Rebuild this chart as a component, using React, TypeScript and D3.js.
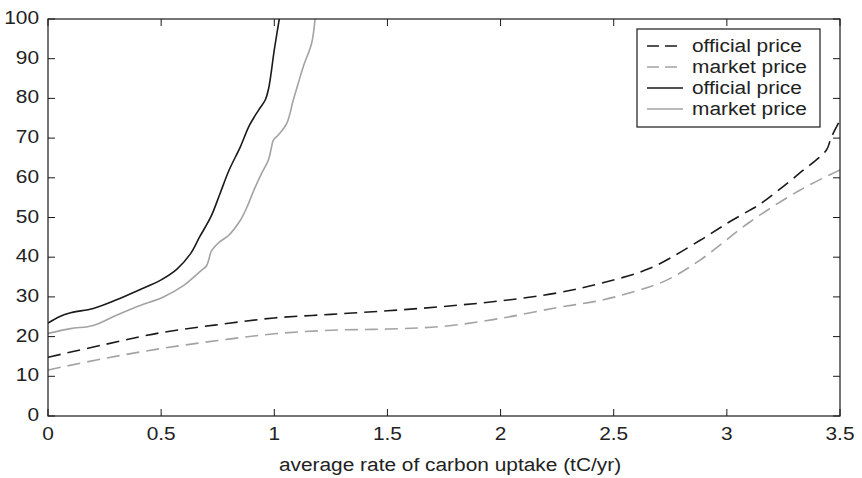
import React from 'react';
import * as d3 from 'd3';

// curve data (x = tC/yr, y = price)
const officialSolidX = [0, 0.05, 0.1, 0.2, 0.3, 0.4, 0.5, 0.57, 0.63, 0.67, 0.72, 0.76, 0.8, 0.85, 0.89, 0.93, 0.96, 0.975, 1.0, 1.022];
const officialSolidY = [23.4, 25, 26, 27.1, 29.2, 31.7, 34.3, 37, 40.9, 45.1, 50.2, 56, 61.9, 67.8, 73.2, 77, 79.6, 82.5, 92.2, 100];

const marketSolidX = [0, 0.1, 0.2, 0.3, 0.4, 0.51, 0.6, 0.67, 0.7, 0.71, 0.72, 0.73, 0.76, 0.8, 0.85, 0.88, 0.91, 0.944, 0.974, 0.988, 0.996, 1.018, 1.055, 1.084, 1.106, 1.128, 1.165, 1.18];
const marketSolidY = [20.8, 22, 22.8, 25.3, 27.7, 30, 32.9, 36.3, 37.8, 39.3, 41.3, 42.2, 43.9, 45.6, 49.3, 52.7, 56.9, 61.1, 64.5, 67.8, 69.5, 70.8, 73.7, 79.6, 83.8, 88, 93.9, 100];

const officialDashX = [0, 0.25, 0.5, 0.75, 1.0, 1.25, 1.5, 1.75, 2.0, 2.25, 2.44, 2.66, 2.88, 3.0, 3.1, 3.15, 3.32, 3.44, 3.46, 3.5];
const officialDashY = [14.8, 18, 21, 23, 24.7, 25.6, 26.5, 27.6, 29, 31, 33.4, 37.2, 44.2, 48.5, 51.8, 53.5, 61.1, 67, 70, 74.5];

const marketDashX = [0, 0.25, 0.5, 0.75, 1.0, 1.25, 1.5, 1.75, 2.0, 2.25, 2.44, 2.6, 2.73, 2.88, 3.1, 3.32, 3.5];
const marketDashY = [11.6, 14.5, 17, 19, 20.7, 21.6, 21.9, 22.6, 24.6, 27.3, 29.1, 31.5, 34.1, 39.2, 48.8, 56.8, 62];

const xTicks = [0, 0.5, 1, 1.5, 2, 2.5, 3, 3.5];
const yTicks = [0, 10, 20, 30, 40, 50, 60, 70, 80, 90, 100];

const legendLabels = ['official price', 'market price', 'official price', 'market price'];

const W = 862;
const H = 478;
const margin = { top: 19, right: 22, bottom: 62, left: 48 };
const FONT = '"Liberation Sans", Arial, Helvetica, sans-serif';
const STRETCH = 1.16;
const BLACK = '#1a1a1a';
const GREY = '#a3a3a3';

const zip = (xs: number[], ys: number[]) => xs.map((x, i) => [x, ys[i]] as [number, number]);

export default function App() {
  const x = d3.scaleLinear().domain([0, 3.5]).range([margin.left, W - margin.right]);
  const y = d3.scaleLinear().domain([0, 100]).range([H - margin.bottom, margin.top]);

  const line = d3.line<[number, number]>()
    .x(d => x(d[0]))
    .y(d => y(d[1]))
    .curve(d3.curveCatmullRom.alpha(0.5));

  const series = [
    { pts: zip(officialDashX, officialDashY), color: BLACK, dash: '13,7' },
    { pts: zip(marketDashX, marketDashY), color: GREY, dash: '13,7' },
    { pts: zip(officialSolidX, officialSolidY), color: BLACK, dash: undefined },
    { pts: zip(marketSolidX, marketSolidY), color: GREY, dash: undefined },
  ];

  const [x0, x1] = x.range();
  const [yb, yt] = y.range();
  const tick = 7;

  const label = (tx: number, ty: number, text: string, anchor: string) => (
    <text
      transform={`translate(${tx},${ty}) scale(${STRETCH},1)`}
      textAnchor={anchor}
      fontFamily={FONT}
      fontSize={18}
      fill="#222"
    >
      {text}
    </text>
  );

  // legend box
  const lg = { x: 637, y: 29, w: 183, h: 98 };

  return (
    <div style={{ position: 'absolute', left: 0, top: 0 }}>
      <svg width={W} height={H} style={{ display: 'block', background: '#fff' }}>
        <defs>
          <clipPath id="plot">
            <rect x={x0} y={yt} width={x1 - x0} height={yb - yt} />
          </clipPath>
        </defs>

        <g clipPath="url(#plot)">
          {series.map((s, i) => (
            <path
              key={i}
              d={line(s.pts) || ''}
              fill="none"
              stroke={s.color}
              strokeWidth={1.6}
              strokeDasharray={s.dash}
            />
          ))}
        </g>

        {/* frame */}
        <rect x={x0} y={yt} width={x1 - x0} height={yb - yt} fill="none" stroke={BLACK} strokeWidth={1.2} />

        {xTicks.map(t => (
          <g key={'x' + t}>
            <line x1={x(t)} x2={x(t)} y1={yb} y2={yb - tick} stroke={BLACK} strokeWidth={1} />
            <line x1={x(t)} x2={x(t)} y1={yt} y2={yt + tick} stroke={BLACK} strokeWidth={1} />
            {label(x(t), yb + 24, String(t), 'middle')}
          </g>
        ))}

        {yTicks.map(t => (
          <g key={'y' + t}>
            <line x1={x0} x2={x0 + tick} y1={y(t)} y2={y(t)} stroke={BLACK} strokeWidth={1} />
            <line x1={x1} x2={x1 - tick} y1={y(t)} y2={y(t)} stroke={BLACK} strokeWidth={1} />
            {label(x0 - 9, y(t) + 5, String(t), 'end')}
          </g>
        ))}

        {label((x0 + x1) / 2 + 6, 471, 'average rate of carbon uptake (tC/yr)', 'middle')}

        {/* legend */}
        <rect x={lg.x} y={lg.y} width={lg.w} height={lg.h} fill="#fff" stroke={BLACK} strokeWidth={1.2} />
        {legendLabels.map((name, i) => {
          const s = series[i];
          const by = 52 + i * 21;
          return (
            <g key={'lg' + i}>
              <line
                x1={647}
                x2={683}
                y1={by - 6}
                y2={by - 6}
                stroke={s.color}
                strokeWidth={1.6}
                strokeDasharray={s.dash ? '12,6' : undefined}
              />
              {label(692, by, name, 'start')}
            </g>
          );
        })}
      </svg>
    </div>
  );
}
